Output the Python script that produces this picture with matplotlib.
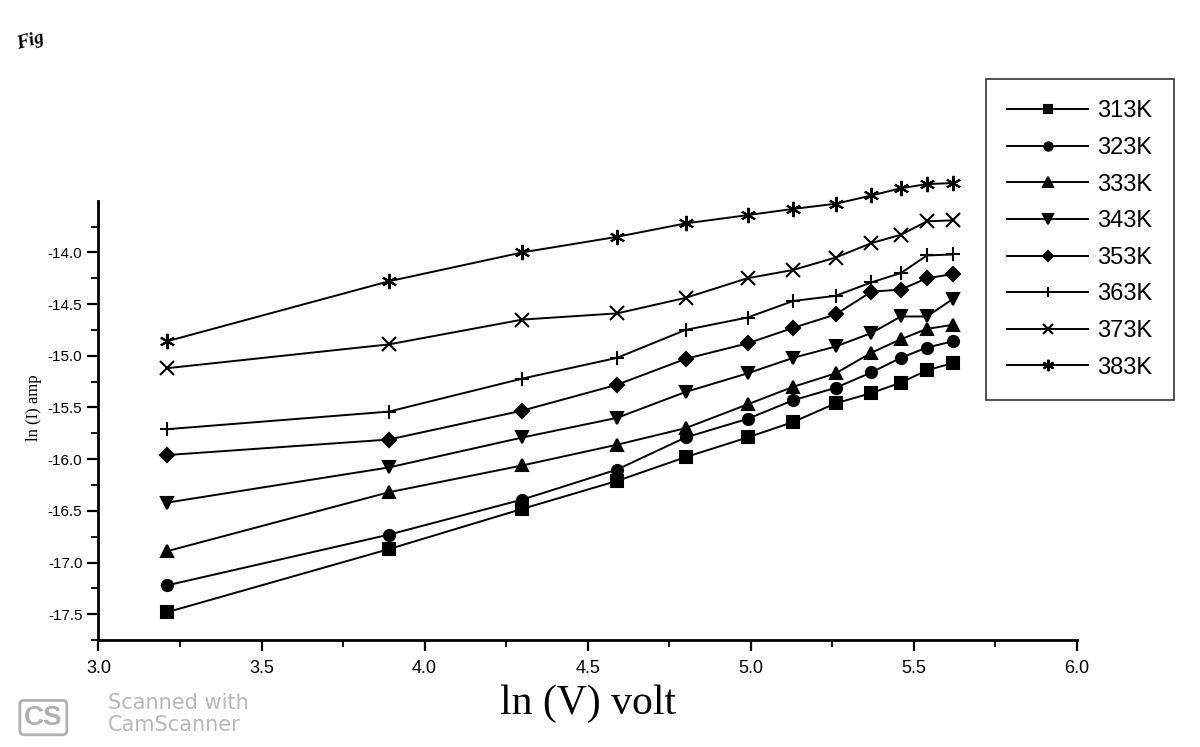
import matplotlib
matplotlib.use('Agg')
import matplotlib.pyplot as plt
from matplotlib.ticker import MultipleLocator, FixedLocator

# ln(V) values shared by all temperatures
ln_v = [3.21, 3.89, 4.30, 4.59, 4.80, 4.99, 5.13, 5.26, 5.37, 5.46, 5.54, 5.62]

temps = ['313K', '323K', '333K', '343K', '353K', '363K', '373K', '383K']

i_313 = [-17.48, -16.87, -16.48, -16.21, -15.98, -15.79, -15.64, -15.46, -15.36, -15.26, -15.14, -15.07]
i_323 = [-17.22, -16.73, -16.39, -16.10, -15.79, -15.61, -15.43, -15.31, -15.16, -15.02, -14.92, -14.86]
i_333 = [-16.89, -16.32, -16.06, -15.86, -15.70, -15.47, -15.30, -15.17, -14.97, -14.84, -14.74, -14.70]
i_343 = [-16.42, -16.08, -15.79, -15.60, -15.35, -15.17, -15.02, -14.91, -14.78, -14.62, -14.62, -14.45]
i_353 = [-15.96, -15.81, -15.53, -15.28, -15.03, -14.88, -14.73, -14.60, -14.38, -14.36, -14.25, -14.21]
i_363 = [-15.71, -15.54, -15.22, -15.02, -14.75, -14.63, -14.47, -14.42, -14.29, -14.20, -14.03, -14.02]
i_373 = [-15.12, -14.89, -14.65, -14.59, -14.44, -14.25, -14.17, -14.05, -13.91, -13.83, -13.70, -13.69]
i_383 = [-14.86, -14.28, -14.00, -13.85, -13.72, -13.64, -13.58, -13.53, -13.45, -13.38, -13.34, -13.33]

y_ticks = [-17.5, -17.0, -16.5, -16.0, -15.5, -15.0, -14.5, -14.0]
y_minor = [-17.75, -17.25, -16.75, -16.25, -15.75, -15.25, -14.75, -14.25, -13.75]

series = [i_313, i_323, i_333, i_343, i_353, i_363, i_373, i_383]
markers = ['s', 'o', '^', 'v', 'D', '+', 'x', (6, 2, 0)]
msizes = [8, 8, 9, 9, 7, 10, 10, 11]

sans = 'Liberation Sans'
serif = 'Liberation Serif'

fig = plt.figure(figsize=(12, 7.47), dpi=100)
ax = fig.add_axes([0.082, 0.143, 0.8155, 0.623])

for y, lab, m, ms in zip(series, temps, markers, msizes):
    ax.plot(ln_v, y, color='black', lw=1.4, marker=m, markersize=ms,
            markerfacecolor='black', markeredgecolor='black',
            markeredgewidth=1.5, label=lab, clip_on=False)

ax.set_xlim(3.0, 6.0)
ax.set_ylim(-17.75, -13.25)
ax.spines['top'].set_visible(False)
ax.spines['right'].set_visible(False)
ax.spines['left'].set_bounds(-17.75, -13.5)
ax.spines['left'].set_linewidth(2)
ax.spines['bottom'].set_linewidth(2)

ax.xaxis.set_major_locator(MultipleLocator(0.5))
ax.xaxis.set_minor_locator(MultipleLocator(0.25))
ax.set_yticks(y_ticks)
ax.set_yticklabels(['%.1f' % v for v in y_ticks])
ax.yaxis.set_minor_locator(FixedLocator(y_minor))
ax.tick_params(which='major', direction='out', length=8, width=1.6)
ax.tick_params(which='minor', direction='out', length=5, width=1.3)
ax.tick_params(axis='x', labelsize=13, pad=6)
ax.tick_params(axis='y', labelsize=11)
for t in ax.get_xticklabels() + ax.get_yticklabels():
    t.set_family(sans)

ax.set_xlabel('ln (V) volt', family=serif, fontsize=30, labelpad=6)
ax.set_ylabel('ln (I) amp', family=serif, fontsize=12, labelpad=4)

leg = fig.legend(loc='upper left', bbox_to_anchor=(0.812, 0.91),
                 bbox_transform=fig.transFigure, frameon=True, fancybox=False,
                 edgecolor='black', prop={'family': sans, 'size': 17},
                 handlelength=3.4, labelspacing=0.62, borderpad=0.9,
                 handletextpad=0.4, markerscale=0.75)
leg.get_frame().set_linewidth(1.2)

fig.text(0.012, 0.935, 'Fig', family=serif, fontsize=14, style='italic',
         weight='bold', rotation=15)
fig.text(0.02, 0.03, 'CS', family=sans, fontsize=20, weight='bold',
         color='#b0b0b0',
         bbox=dict(boxstyle='round,pad=0.15', fc='none', ec='#b0b0b0', lw=2))
fig.text(0.09, 0.022, 'Scanned with\nCamScanner', family='DejaVu Sans',
         fontsize=15, color='#b8b8b8', linespacing=1.1)

fig.savefig('out.png', dpi=100)
